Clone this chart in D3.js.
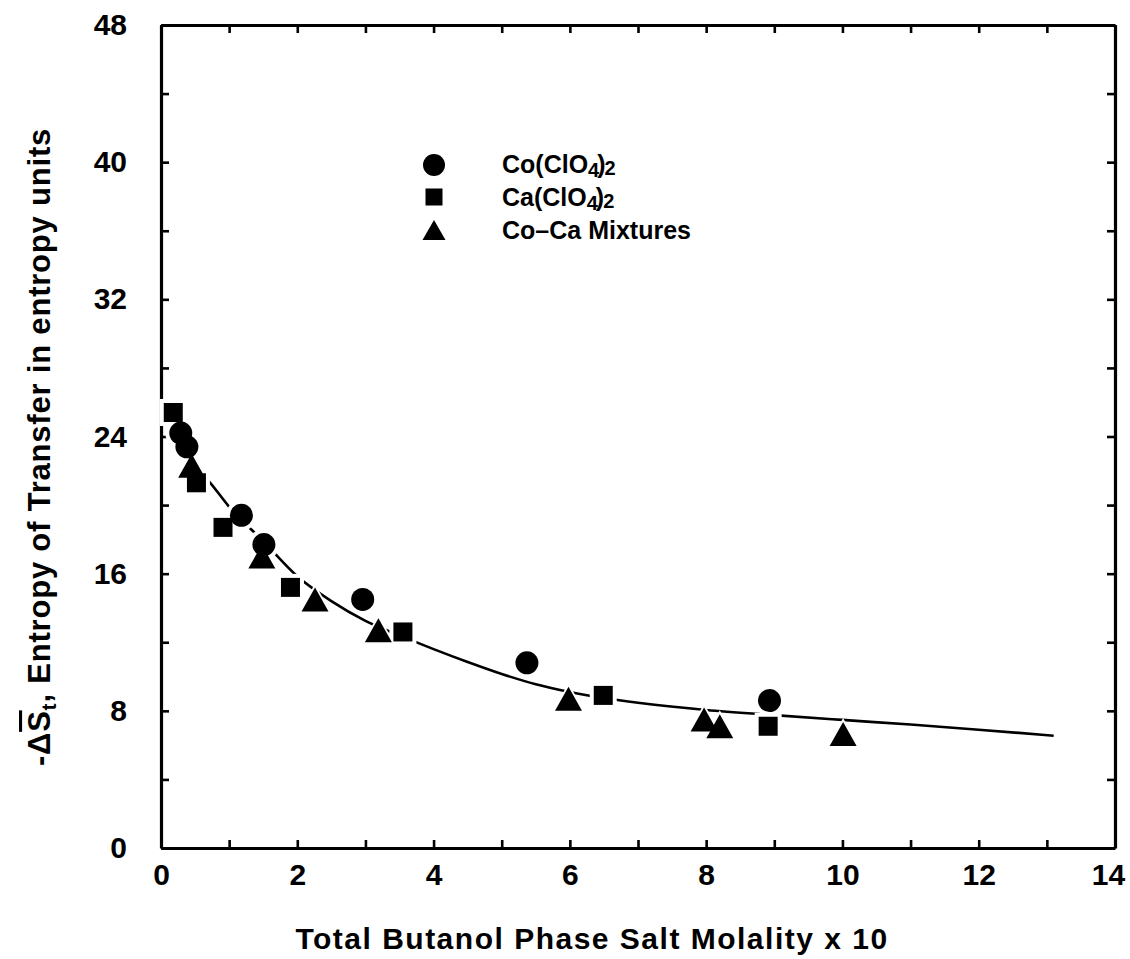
<!DOCTYPE html>
<html>
<head>
<meta charset="utf-8">
<script src="https://cdn.jsdelivr.net/npm/d3@7"></script>
<style>
body { margin: 0; background: #fff; }
text { font-family: "Liberation Sans", Arial, sans-serif; font-weight: bold; fill: #000; }
</style>
</head>
<body>
<svg id="chart" width="1130" height="959"></svg>
<script>
// values
let cobaltX = [0.29, 0.38, 1.18, 1.51, 2.96, 5.37, 8.93];
let cobaltY = [24.2, 23.4, 19.4, 17.7, 14.5, 10.8, 8.6];
let calciumX = [0.18, 0.52, 0.91, 1.90, 3.55, 6.49, 8.91];
let calciumY = [25.4, 21.3, 18.7, 15.2, 12.6, 8.9, 7.1];
let mixtureX = [0.45, 1.48, 2.26, 3.19, 5.98, 7.97, 8.20, 10.01];
let mixtureY = [22.3, 17.0, 14.5, 12.7, 8.7, 7.5, 7.1, 6.65];

// hand-drawn fit curve, traced point by point
let curveX = [0.5, 0.7, 1.0, 1.5, 2.0, 2.5, 3.0, 3.5, 4.0, 4.5, 5.0, 5.5, 6.0, 6.5, 7.0, 8.0, 9.0, 10.0, 11.0, 12.0, 13.1];
let curveY = [22.2, 21.4, 19.9, 17.9, 15.85, 14.4, 13.25, 12.4, 11.6, 10.85, 10.15, 9.55, 9.1, 8.75, 8.47, 8.05, 7.75, 7.47, 7.2, 6.9, 6.55];

let xTicks = [0, 1, 2, 3, 4, 5, 6, 7, 8, 9, 10, 11, 12, 13, 14];
let xLabels = [0, 2, 4, 6, 8, 10, 12, 14];
let yTicks = [0, 4, 8, 12, 16, 20, 24, 28, 32, 36, 40, 44, 48];
let yLabels = [0, 8, 16, 24, 32, 40, 48];

let margin = {top: 25, right: 15, bottom: 111, left: 161};
let width = 1130 - margin.left - margin.right;
let height = 959 - margin.top - margin.bottom;

let svg = d3.select("#chart")
    .append("g")
    .attr("transform", "translate(" + margin.left + "," + margin.top + ")");

let x = d3.scaleLinear().domain([0, 14]).range([0, width]);
let y = d3.scaleLinear().domain([0, 48]).range([height, 0]);

function styleAxis(g) {
    g.select(".domain").attr("stroke", "#000").attr("stroke-width", 3.2);
    g.selectAll(".tick line").attr("stroke", "#000").attr("stroke-width", 2.6);
    g.selectAll(".tick text")
        .style("font-size", "30px")
        .style("font-family", "'Liberation Sans', Arial, sans-serif")
        .style("font-weight", "bold");
}

// bottom axis, labels only on even values
let xAxisG = svg.append("g")
    .attr("transform", "translate(0," + height + ")")
    .call(d3.axisBottom(x).tickValues(xTicks).tickSizeInner(-8).tickSizeOuter(0).tickPadding(16)
        .tickFormat(function (d) { return xLabels.indexOf(d) >= 0 ? d : ""; }))
    .call(styleAxis);
// last label sits against the page edge
xAxisG.selectAll(".tick text").filter(function (d) { return d === 14; }).attr("dx", -7);

svg.append("g")
    .call(d3.axisTop(x).tickValues(xTicks).tickSizeInner(-8).tickSizeOuter(0).tickFormat(""))
    .call(styleAxis);

svg.append("g")
    .call(d3.axisLeft(y).tickValues(yTicks).tickSizeInner(-8).tickSizeOuter(0).tickPadding(34)
        .tickFormat(function (d) { return yLabels.indexOf(d) >= 0 ? d : ""; }))
    .call(styleAxis);

svg.append("g")
    .attr("transform", "translate(" + width + ",0)")
    .call(d3.axisRight(y).tickValues(yTicks).tickSizeInner(-8).tickSizeOuter(0).tickFormat(""))
    .call(styleAxis);

// fitted curve
let curvePts = curveX.map(function (d, i) { return [d, curveY[i]]; });
svg.append("path")
    .datum(curvePts)
    .attr("fill", "none")
    .attr("stroke", "#000")
    .attr("stroke-width", 2.6)
    .attr("d", d3.line()
        .x(function (d) { return x(d[0]); })
        .y(function (d) { return y(d[1]); })
        .curve(d3.curveMonotoneX));

function triPath(w, h) {
    return "M0," + (-h / 2) + "L" + (w / 2) + "," + (h / 2) + "L" + (-w / 2) + "," + (h / 2) + "Z";
}

function drawMarkers(layer, halo) {
    let extra = halo ? 4 : 0;
    let fill = halo ? "#fff" : "#000";
    cobaltX.forEach(function (d, i) {
        layer.append("circle")
            .attr("cx", x(d)).attr("cy", y(cobaltY[i]))
            .attr("r", 11.5 + extra).attr("fill", fill);
    });
    calciumX.forEach(function (d, i) {
        let s = 19 + extra * 2;
        layer.append("rect")
            .attr("x", x(d) - s / 2).attr("y", y(calciumY[i]) - s / 2)
            .attr("width", s).attr("height", s).attr("fill", fill);
    });
    mixtureX.forEach(function (d, i) {
        layer.append("path")
            .attr("transform", "translate(" + x(d) + "," + y(mixtureY[i]) + ")")
            .attr("d", triPath(27 + extra * 2, 24 + extra * 2))
            .attr("fill", fill);
    });
}

// white halos break the curve near markers, like the original drawing
drawMarkers(svg.append("g"), true);
drawMarkers(svg.append("g"), false);

// legend
let legend = svg.append("g").attr("transform", "translate(" + (434 - margin.left) + "," + (165 - margin.top) + ")");
legend.append("circle").attr("cx", 0).attr("cy", 0).attr("r", 11).attr("fill", "#000");
legend.append("rect").attr("x", -8.5).attr("y", 32 - 8.5).attr("width", 17).attr("height", 17).attr("fill", "#000");
legend.append("path").attr("transform", "translate(0,65)").attr("d", triPath(23, 20)).attr("fill", "#000");

function formula(g, yPos, metal) {
    let t = g.append("text").attr("x", 68).attr("y", yPos).style("font-size", "25px");
    t.append("tspan").text(metal + "(ClO");
    t.append("tspan").attr("dy", 4).style("font-size", "20px").text("4");
    t.append("tspan").attr("dy", -4).attr("dx", -2).text(")");
    t.append("tspan").attr("dy", 2).attr("dx", -1).style("font-size", "20px").text("2");
}
formula(legend, 8, "Co");
formula(legend, 41, "Ca");
legend.append("text").attr("x", 68).attr("y", 74).style("font-size", "25px").text("Co\u2013Ca Mixtures");

// axis titles
svg.append("text")
    .attr("x", 592 - margin.left)
    .attr("y", 949 - margin.top)
    .attr("text-anchor", "middle")
    .style("font-size", "30px")
    .style("letter-spacing", "1.5px")
    .text("Total Butanol Phase Salt Molality  x 10");

let yTitle = svg.append("text")
    .attr("transform", "translate(" + (50 - margin.left) + "," + (447 - margin.top) + ") rotate(-90)")
    .attr("text-anchor", "middle")
    .style("font-size", "31px")
    .style("letter-spacing", "0.8px");
yTitle.append("tspan").text("-\u0394");
yTitle.append("tspan").attr("text-decoration", "overline").text("S");
yTitle.append("tspan").attr("dy", 6).style("font-size", "21px").text("t");
yTitle.append("tspan").attr("dy", -6).text(", Entropy of Transfer in entropy units");
</script>
</body>
</html>
